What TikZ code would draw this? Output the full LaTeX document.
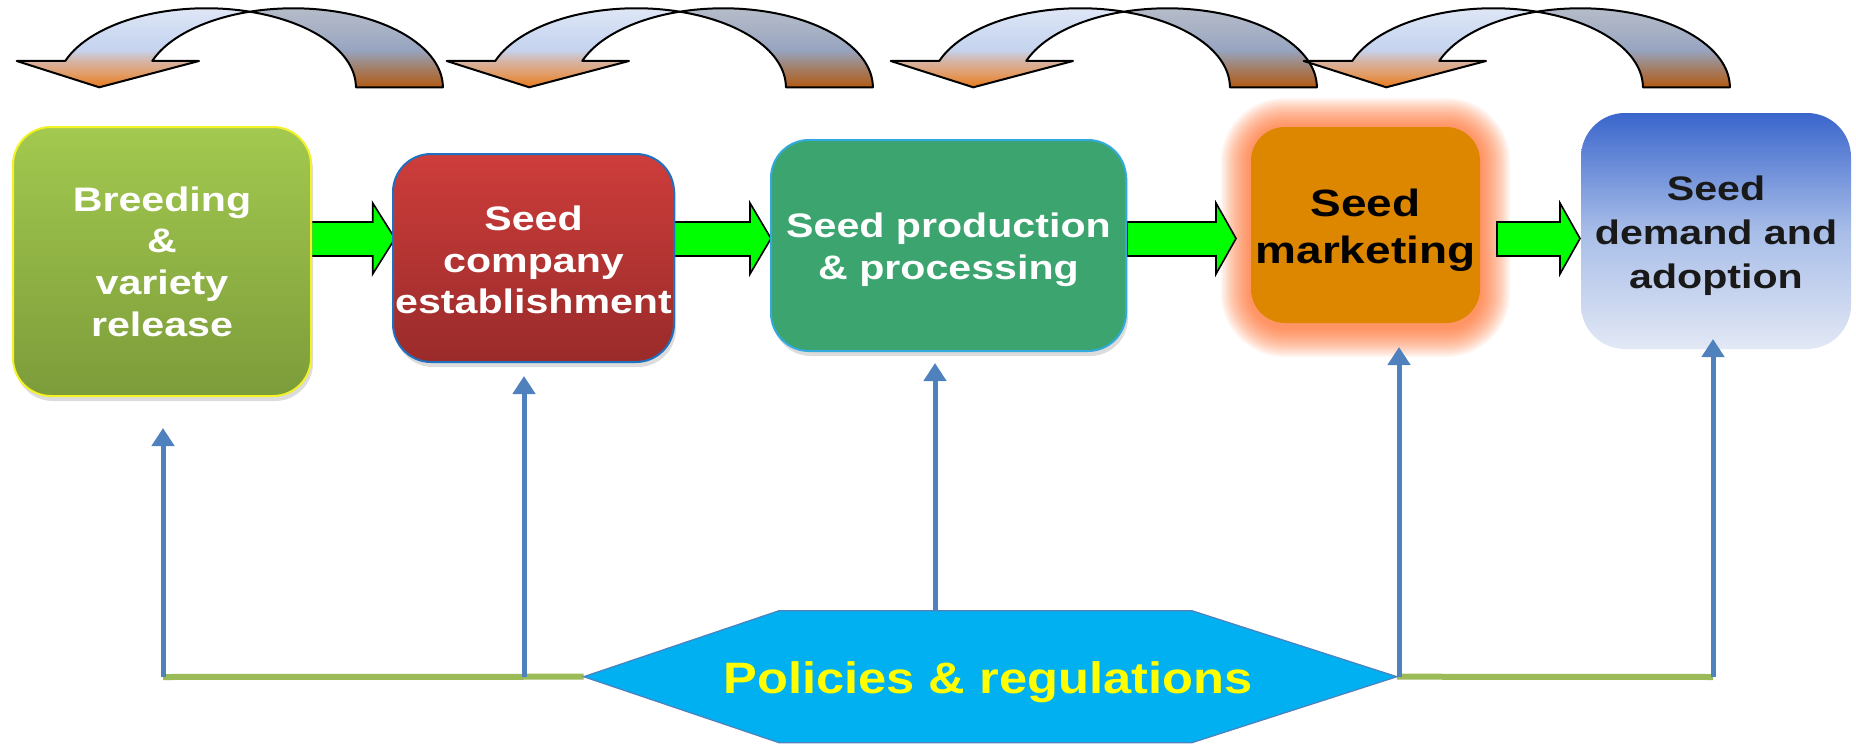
\documentclass[tikz,border=0pt]{standalone}
\usepackage{fontspec}
\setmainfont{Liberation Sans}
\usepackage{graphicx}
\usetikzlibrary{arrows.meta,shadows,calc}

\definecolor{fbA}{HTML}{E8791C}
\definecolor{fbB}{HTML}{E29A62}
\definecolor{fbC}{HTML}{D6B4A4}
\definecolor{fbD}{HTML}{C5D3EE}
\definecolor{fbE}{HTML}{CCD9F1}
\definecolor{fbF}{HTML}{DEE6F6}
\definecolor{bbA}{HTML}{B35A14}
\definecolor{bbB}{HTML}{A47B5F}
\definecolor{bbC}{HTML}{97A4C0}
\definecolor{bbD}{HTML}{A7B1C5}
\definecolor{bbE}{HTML}{B5BBC8}
\definecolor{bOneTop}{HTML}{A3C94F}
\definecolor{bOneBot}{HTML}{7C9C3A}
\definecolor{bOneBorder}{HTML}{F2F226}
\definecolor{bTwoTop}{HTML}{CD3D3B}
\definecolor{bTwoBot}{HTML}{992B2A}
\definecolor{bTwoBorder}{HTML}{2070C0}
\definecolor{bThree}{HTML}{3BA46F}
\definecolor{bThreeBorder}{HTML}{33AADD}
\definecolor{bFour}{HTML}{DD8600}
\definecolor{glowc}{HTML}{FF5A10}
\definecolor{bFiveTop}{HTML}{3A66CC}
\definecolor{bFiveMid}{HTML}{A8BDE8}
\definecolor{bFiveBot}{HTML}{E2E8F5}
\definecolor{blueline}{HTML}{4F81BD}
\definecolor{greenline}{HTML}{9BBB59}
\definecolor{hexfill}{HTML}{00B0F0}
\definecolor{blockgreen}{HTML}{00FF00}
\definecolor{poltext}{HTML}{FFFF00}

\pgfdeclareverticalshading{frontband}{100bp}{color(0bp)=(fbA); color(25bp)=(fbA); color(33bp)=(fbB); color(41.6bp)=(fbC); color(48.6bp)=(fbD); color(58bp)=(fbE); color(74bp)=(fbF); color(100bp)=(fbF)}
\pgfdeclareverticalshading{backband}{100bp}{color(0bp)=(bbA); color(25bp)=(bbA); color(36bp)=(bbB); color(48.6bp)=(bbC); color(61bp)=(bbD); color(75bp)=(bbE); color(100bp)=(bbE)}

\newcommand{\hs}[1]{\scalebox{1.21}[1]{#1}}
\newcommand{\hsp}[1]{\scalebox{1.15}[1]{#1}}

\begin{document}
\begin{tikzpicture}[x=1pt,y=1pt,
  box/.style={rounded corners=38pt, inner sep=0pt},
  boxtext/.style={inner sep=0pt, align=center, font=\fontsize{34}{41.7}\selectfont\bfseries},
  boxshadow/.style={drop shadow={opacity=0.28, shadow xshift=2pt, shadow yshift=-5pt}},
  outline/.style={draw=black, line width=2pt, line join=round},
  gblock/.style={fill=blockgreen, draw=black, line width=1.6pt, line join=miter},
  barrow/.style={draw=blueline, line width=5pt, -{Triangle[width=22pt,length=18pt]}},
  gline/.style={draw=greenline, line width=6pt},
]
\useasboundingbox (0,0) rectangle (1856,-744);

% ---- curved arrows on top ----
\foreach \ox in {0,430,874,1287}{
  \begin{scope}[xshift=\ox pt]
    \begin{scope}
      \clip (249.8,-11.7) arc[start angle=106.9,end angle=0,x radius=149.6,y radius=79]
        -- (355.9,-87.3) arc[start angle=0,end angle=73.1,x radius=149.6,y radius=79] -- cycle;
      \shade[shading=backband] (240,-8.3) rectangle (450,-87.3);
    \end{scope}
    \path[outline] (249.8,-11.7) arc[start angle=106.9,end angle=0,x radius=149.6,y radius=79]
        -- (355.9,-87.3) arc[start angle=0,end angle=73.1,x radius=149.6,y radius=79] -- cycle;
    \begin{scope}
      \clip (65.3,-60.9) arc[start angle=160.5,end angle=73.1,x radius=149.6,y radius=79]
        arc[start angle=106.9,end angle=160.5,x radius=149.6,y radius=79]
        -- (199,-61) -- (99.3,-87.3) -- (16.7,-61) -- cycle;
      \shade[shading=frontband] (10,-8.3) rectangle (260,-87.3);
    \end{scope}
    \path[outline] (65.3,-60.9) arc[start angle=160.5,end angle=73.1,x radius=149.6,y radius=79]
        arc[start angle=106.9,end angle=160.5,x radius=149.6,y radius=79]
        -- (199,-61) -- (99.3,-87.3) -- (16.7,-61) -- cycle;
  \end{scope}
}

% ---- glow of the marketing box ----
\foreach \i in {1,...,15}{
  \pgfmathsetmacro\g{2*\i}
  \pgfmathsetmacro\r{34+2*\i}
  \fill[glowc, opacity=0.065, rounded corners=\r pt] (1251-\g,-327-\g) rectangle (1480+\g,-128+\g);
}

% ---- green block arrows ----
\path[gblock] (310,-222) -- (372.7,-222) -- (372.7,-203) -- (395,-238.5) -- (372.7,-274) -- (372.7,-256) -- (310,-256) -- cycle;
\path[gblock] (672,-222) -- (750,-222) -- (750,-203) -- (771,-238.5) -- (750,-274) -- (750,-256) -- (672,-256) -- cycle;
\path[gblock] (1127,-222) -- (1216,-222) -- (1216,-203) -- (1236,-238.5) -- (1216,-274) -- (1216,-256) -- (1127,-256) -- cycle;
\path[gblock] (1497,-222) -- (1560,-222) -- (1560,-203) -- (1580,-238.5) -- (1560,-274) -- (1560,-256) -- (1497,-256) -- cycle;

% ---- boxes ----
\node[box, boxshadow, draw=bOneBorder, line width=2pt, top color=bOneTop, bottom color=bOneBot,
  minimum width=298pt, minimum height=269pt] (b1) at (162,-261.5) {};
\node[boxtext, text=white] (t1) at (162,-261.5)
  {\hs{Breeding}\\\hs{\&}\\\hs{variety}\\\hs{release}};
\node[box, boxshadow, draw=bTwoBorder, line width=2pt, top color=bTwoTop, bottom color=bTwoBot,
  minimum width=281pt, minimum height=208pt] (b2) at (533.5,-258) {};
\node[boxtext, text=white] (t2) at (533.5,-260)
  {\hs{Seed}\\\hs{company}\\\hs{establishment}};
\node[box, boxshadow, draw=bThreeBorder, line width=2pt, fill=bThree,
  minimum width=355pt, minimum height=211pt] (b3) at (948.5,-245.5) {};
\node[boxtext, text=white] (t3) at (948.5,-250)
  {\hs{Seed production}\\\hs{\& processing}};
\node[box, fill=bFour, rounded corners=34pt, minimum width=229pt, minimum height=196pt] (b4) at (1365.5,-225) {};
\node[boxtext, text=black, font=\fontsize{38}{46.7}\selectfont\bfseries] (t4) at (1365.5,-230)
  {\hs{Seed}\\\hs{marketing}};
\node[box, top color=bFiveTop, bottom color=bFiveBot, middle color=bFiveMid, rounded corners=44pt,
  minimum width=270pt, minimum height=236pt] (b5) at (1716,-231) {};
\node[boxtext, text=black!90, font=\fontsize{34}{44}\selectfont\bfseries] (t5) at (1716,-236)
  {\hs{Seed}\\\hs{demand and}\\\hs{adoption}};

% ---- policies ----
\coordinate (hL) at (583.6,-676.7);
\coordinate (hR) at (1397,-676.7);
\coordinate (hT) at (935,-610.7);
\coordinate (gA) at (163,-677);
\coordinate (gB) at (524,-677);
\coordinate (gD) at (1399,-677);
\coordinate (gE) at (1713,-677);
\coordinate (tA) at (163,-428);
\coordinate (tB) at (524,-376);
\coordinate (tC) at (935,-363);
\coordinate (tD) at (1399,-347);
\coordinate (tE) at (1713,-339);

\draw[gline] (gA) -- (hL);
\draw[gline] (hR) -- (gE);
\path[fill=hexfill, draw=blueline, line width=1.2pt] (hL) -- (779,-610.7) -- (1192,-610.7) -- (hR)
  -- (1192,-742.7) -- (779,-742.7) -- cycle;
\node[text=poltext, font=\fontsize{44}{50}\selectfont\bfseries] (pol) at (988,-682) {\hsp{Policies \& regulations}};

\draw[barrow] (gA) -- (tA);
\draw[barrow] (gB) -- (tB);
\draw[barrow] (hT) -- (tC);
\draw[barrow] (gD) -- (tD);
\draw[barrow] (gE) -- (tE);
\end{tikzpicture}
\end{document}
